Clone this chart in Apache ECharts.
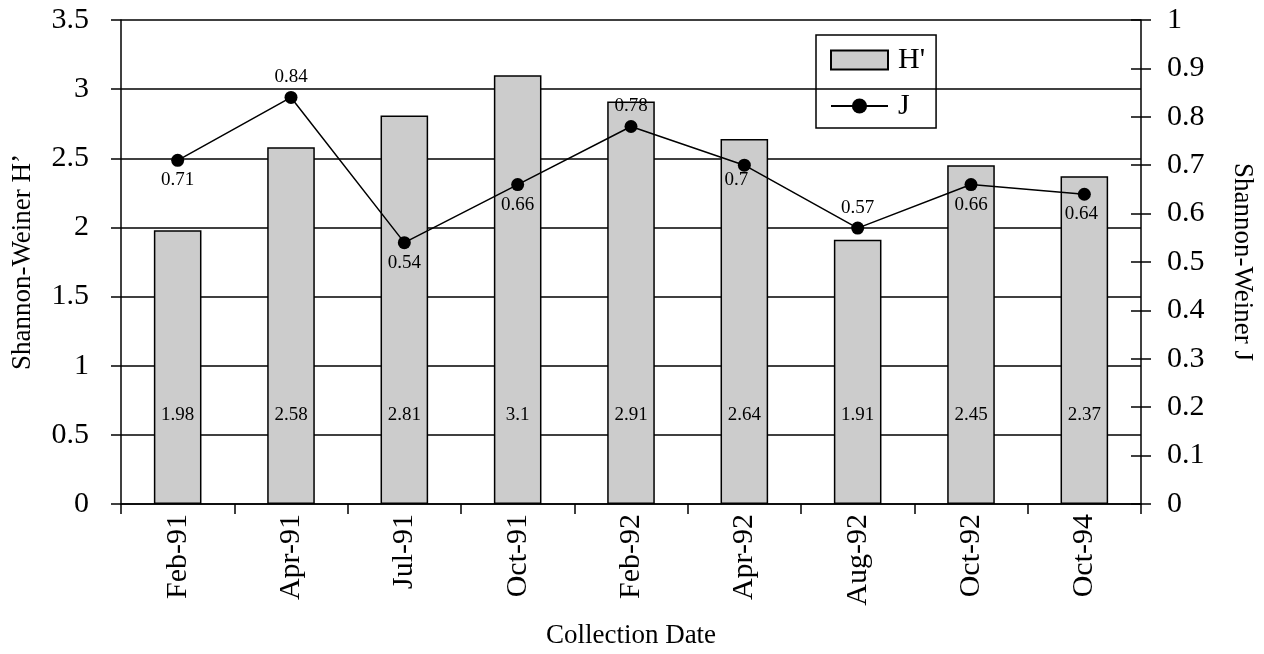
<!DOCTYPE html>
<html>
<head>
<meta charset="utf-8">
<script src="https://cdn.jsdelivr.net/npm/echarts@6/dist/echarts.min.js"></script>
<style>
  html, body { margin: 0; padding: 0; background: #fff; }
  #chart { width: 1264px; height: 654px; }
</style>
</head>
<body>
<div id="chart"></div>
<script>
// Collection dates and diversity indices
const dates = ['Feb-91', 'Apr-91', 'Jul-91', 'Oct-91', 'Feb-92', 'Apr-92', 'Aug-92', 'Oct-92', 'Oct-94'];
const shannonH = [1.98, 2.58, 2.81, 3.1, 2.91, 2.64, 1.91, 2.45, 2.37];
const evennessJ = [0.71, 0.84, 0.54, 0.66, 0.78, 0.70, 0.57, 0.66, 0.64];
// where each J value label sits relative to its point
const jLabelPlace = ['bottom', 'top', 'bottom', 'bottom', 'top', 'bottom', 'top', 'bottom', 'bottom'];
const jLabelShift = [[0, 0], [0, 0], [0, 0], [0, 0], [0, 0], [-8, -5], [0, 0], [0, 0], [-3, 0]];

const FONT = 'Liberation Serif';
const chart = echarts.init(document.getElementById('chart'), null, { renderer: 'canvas' });

const axisLine = { show: true, lineStyle: { color: '#000', width: 1.5 } };
const tickStyle = { color: '#000', width: 1.5 };

chart.setOption({
  backgroundColor: '#fff',
  animation: false,
  textStyle: { fontFamily: FONT, color: '#000' },
  grid: { left: 121, right: 123, top: 20, bottom: 145, containLabel: false },
  legend: {
    orient: 'vertical',
    left: 816,
    top: 35,
    padding: [10, 11, 7, 14],
    itemGap: 16,
    itemWidth: 57,
    itemHeight: 19,
    borderColor: '#000',
    borderWidth: 1.5,
    textStyle: { fontFamily: FONT, fontSize: 30, color: '#000', lineHeight: 30, padding: [0, 0, 0, 5] },
    data: [{ name: "H'", icon: 'rect' }, { name: 'J' }]
  },
  xAxis: {
    type: 'category',
    data: dates,
    boundaryGap: true,
    axisLine: axisLine,
    axisTick: { show: true, length: 10, lineStyle: tickStyle },
    axisLabel: { rotate: 90, fontFamily: FONT, fontSize: 30, color: '#000', margin: 10 },
    name: 'Collection Date',
    nameLocation: 'middle',
    nameGap: 118,
    nameTextStyle: { fontFamily: FONT, fontSize: 27, color: '#000' }
  },
  yAxis: [
    {
      type: 'value',
      position: 'left',
      min: 0, max: 3.5, interval: 0.5,
      axisLine: axisLine,
      axisTick: { show: true, length: 10, lineStyle: tickStyle },
      axisLabel: { fontFamily: FONT, fontSize: 30, color: '#000', margin: 32 },
      splitLine: { show: true, lineStyle: { color: '#000', width: 1.5 } },
      name: 'Shannon-Weiner H\u2019',
      nameLocation: 'middle',
      nameGap: 85,
      nameRotate: 90,
      nameTextStyle: { fontFamily: FONT, fontSize: 27, color: '#000' }
    },
    {
      type: 'value',
      position: 'right',
      min: 0, max: 1, interval: 0.1,
      axisLine: axisLine,
      axisTick: { show: true, length: 10, lineStyle: tickStyle },
      axisLabel: { fontFamily: FONT, fontSize: 30, color: '#000', margin: 26 },
      splitLine: { show: false },
      name: 'Shannon-Weiner J',
      nameLocation: 'middle',
      nameGap: 88,
      nameRotate: -90,
      nameTextStyle: { fontFamily: FONT, fontSize: 27, color: '#000' }
    },
    {
      // inward half of the crossing ticks on the right axis
      type: 'value',
      position: 'right',
      min: 0, max: 1, interval: 0.1,
      axisLine: { show: false },
      axisTick: { show: true, inside: true, length: 10, lineStyle: tickStyle },
      axisLabel: { show: false },
      splitLine: { show: false }
    }
  ],
  series: [
    {
      name: "H'",
      type: 'bar',
      yAxisIndex: 0,
      data: shannonH,
      barWidth: '42%',
      itemStyle: { color: '#cccccc', borderColor: '#000', borderWidth: 1.5 },
      label: {
        show: true,
        position: 'insideBottom',
        distance: 79,
        fontFamily: FONT,
        fontSize: 19,
        color: '#000'
      },
      z: 2
    },
    {
      name: 'J',
      type: 'line',
      yAxisIndex: 1,
      data: evennessJ.map((v, i) => ({
        value: v,
        label: { position: jLabelPlace[i], offset: jLabelShift[i] }
      })),
      symbol: 'circle',
      symbolSize: 13,
      lineStyle: { color: '#000', width: 1.5 },
      itemStyle: { color: '#000' },
      label: {
        show: true,
        distance: 4,
        fontFamily: FONT,
        fontSize: 19,
        color: '#000'
      },
      z: 3
    }
  ]
});
</script>
</body>
</html>
